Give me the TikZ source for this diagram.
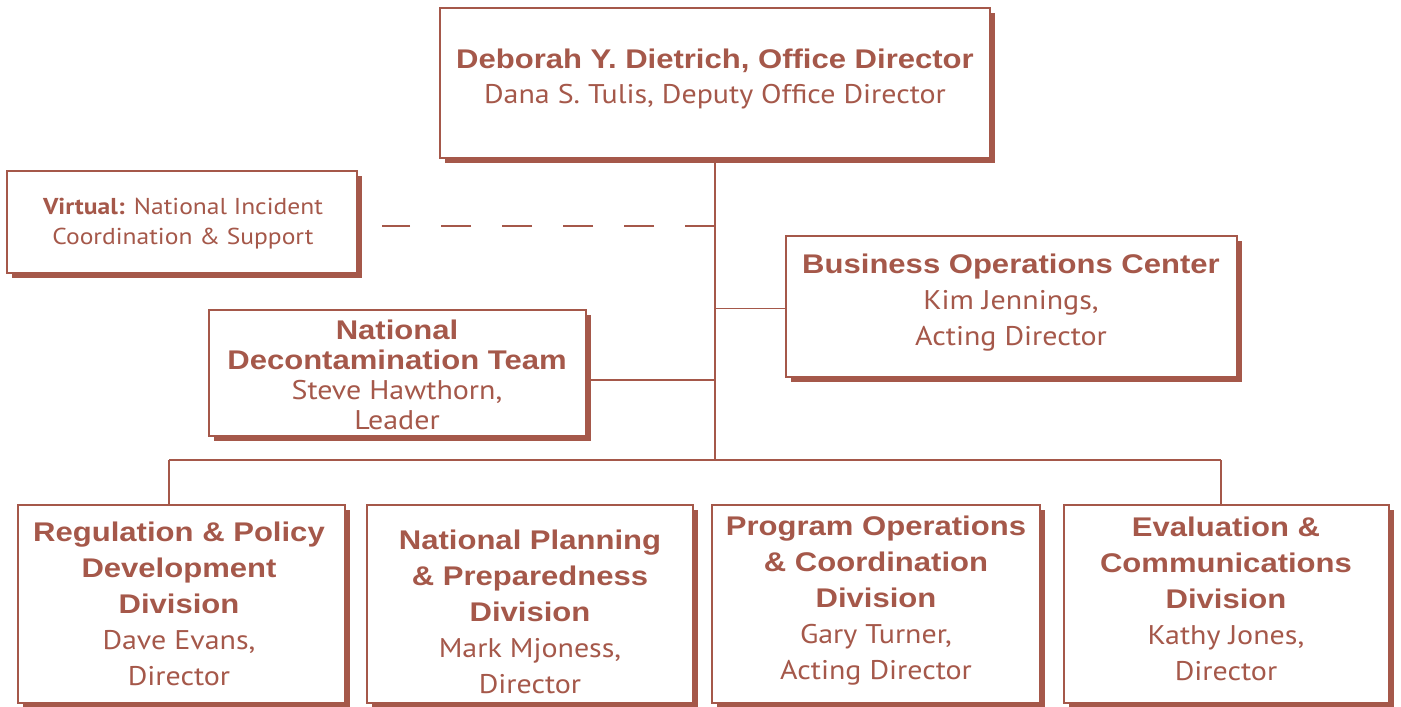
\documentclass[tikz,border=0pt]{standalone}
\usepackage{fontspec}
\usetikzlibrary{shadows}
\newfontfamily\hvb{Liberation Sans}[FakeStretch=1.15]
\newfontfamily\myr{PT Sans}[FakeStretch=1.11]
\newcommand\boldln{\hvb\bfseries}
\newcommand\regln{\myr\mdseries}
\definecolor{brick}{HTML}{A5584A}
\begin{document}
\begin{tikzpicture}[x=1pt,y=-1pt,
  box/.style={draw=brick, line width=1.6pt, fill=white, inner sep=0pt,
    drop shadow={shadow xshift=5pt, shadow yshift=-5pt, fill=brick, opacity=1}},
  txt/.style={text=brick, align=center, inner sep=0pt},
  big/.style={font=\fontsize{27}{36}\selectfont},
  mid/.style={font=\fontsize{27}{30}\selectfont},
  small/.style={font=\fontsize{23}{30}\selectfont},
  conn/.style={draw=brick, line width=1.9pt},
  dconn/.style={draw=brick, line width=1.9pt, dash pattern=on 30pt off 31pt}]
\useasboundingbox (0,0) rectangle (1401,707);
\node[box, minimum width=550pt, minimum height=150pt] (top) at (715,83) {};
\node[box, minimum width=350pt, minimum height=102pt] (virt) at (182,222) {};
\node[box, minimum width=451pt, minimum height=141pt] (busi) at (1011.5,306.5) {};
\node[box, minimum width=377pt, minimum height=126pt] (decon) at (397.5,373) {};
\node[box, minimum width=327pt, minimum height=198pt] (reg) at (181.5,604) {};
\node[box, minimum width=326pt, minimum height=198pt] (plan) at (530,604) {};
\node[box, minimum width=328pt, minimum height=198pt] (prog) at (876,604) {};
\node[box, minimum width=325pt, minimum height=198pt] (eval) at (1226.5,604) {};
% texts
\node[txt, font=\fontsize{27}{35}\selectfont] (toptxt) at (715,78.5) {\boldln Deborah Y. Dietrich, Office Director\\ \regln Dana S. Tulis, Deputy Office Director};
\node[txt, small] (virttxt) at (183,224) {{\myr\bfseries Virtual:} \regln National Incident\\ \regln Coordination \& Support};
\node[txt, big] (busitxt) at (1011,303) {\boldln Business Operations Center\\ \regln Kim Jennings,\\ \regln Acting Director};
\node[txt, mid] (decontxt) at (397,375) {\boldln National\\ \boldln Decontamination Team\\ \regln Steve Hawthorn,\\ \regln Leader};
\node[txt, big] (regtxt) at (179,604) {\boldln Regulation \& Policy\\ \boldln Development\\ \boldln Division\\ \regln Dave Evans,\\ \regln Director};
\node[txt, big] (plantxt) at (530,612) {\boldln National Planning\\ \boldln \& Preparedness\\ \boldln Division\\ \regln Mark Mjoness,\\ \regln Director};
\node[txt, big] (progtxt) at (876,601) {\boldln Program Operations\\ \boldln \& Coordination\\ \boldln Division\\ \regln Gary Turner,\\ \regln Acting Director};
\node[txt, big] (evaltxt) at (1226,599) {\boldln Evaluation \&\\ \boldln Communications\\ \boldln Division\\ \regln Kathy Jones,\\ \regln Director};
% connectors
\coordinate (busL) at (169,460);
\coordinate (busR) at (1221,460);
\coordinate (dashend) at (382,226);
\draw[conn] (top.south) -- (top.south |- busL);
\draw[conn] (busL) -- (busR);
\draw[conn] (busL) -- (busL |- reg.north);
\draw[conn] (busR) -- (busR |- eval.north);
\draw[conn] ([yshift=-2pt]busi.west) -- ([yshift=-2pt]busi.west -| top.south);
\draw[conn] ([yshift=-7pt]decon.east) -- ([yshift=-7pt]decon.east -| top.south);
\draw[dconn] (top.south |- dashend) -- (dashend);
\end{tikzpicture}
\end{document}
